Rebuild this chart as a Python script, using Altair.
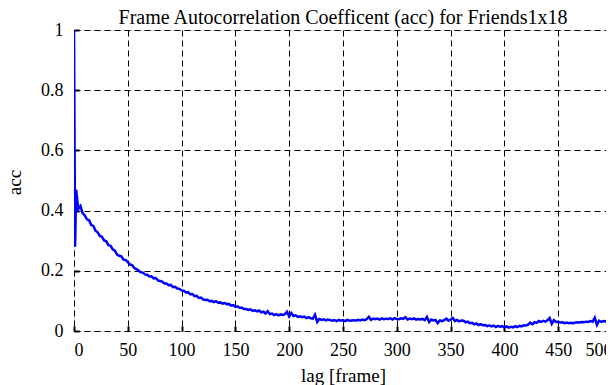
import altair as alt
import pandas as pd

TITLE = "Frame Autocorrelation Coefficent (acc) for Friends1x18"
X_TICKS = [0, 50, 100, 150, 200, 250, 300, 350, 400, 450, 500]
Y_TICKS = [0, 0.2, 0.4, 0.6, 0.8, 1.0]

LAGS = [0, 1] + list(range(2, 501, 2))
ACC = [
    1.0, 0.28,
    0.47, 0.405, 0.415, 0.392, 0.384, 0.371, 0.368, 0.352, 0.349, 0.333,
    0.328, 0.316, 0.313, 0.301, 0.298, 0.285, 0.283, 0.271, 0.267, 0.254,
    0.25, 0.248, 0.237, 0.236, 0.229, 0.221, 0.219, 0.209, 0.206, 0.201,
    0.195, 0.194, 0.188, 0.187, 0.181, 0.182, 0.175, 0.176, 0.168, 0.166,
    0.164, 0.158, 0.158, 0.152, 0.153, 0.146, 0.147, 0.141, 0.14, 0.135,
    0.134, 0.128, 0.129, 0.122, 0.123, 0.116, 0.117, 0.11, 0.111, 0.105,
    0.103, 0.104, 0.099, 0.1, 0.096, 0.099, 0.094, 0.095, 0.091, 0.093,
    0.089, 0.09, 0.084, 0.086, 0.08, 0.082, 0.077, 0.077, 0.073, 0.073,
    0.07, 0.072, 0.067, 0.069, 0.065, 0.068, 0.062, 0.064, 0.058, 0.066,
    0.056, 0.058, 0.053, 0.056, 0.052, 0.055, 0.053, 0.056, 0.064, 0.048,
    0.06, 0.05, 0.052, 0.047, 0.049, 0.046, 0.048, 0.043, 0.046, 0.042,
    0.041, 0.054, 0.03, 0.04, 0.037, 0.039, 0.035, 0.038, 0.036, 0.034,
    0.036, 0.033, 0.037, 0.034, 0.036, 0.033, 0.037, 0.034, 0.035, 0.036,
    0.034, 0.037, 0.035, 0.038, 0.036, 0.039, 0.047, 0.037, 0.041, 0.039,
    0.041, 0.038, 0.042, 0.039, 0.041, 0.04, 0.042, 0.038, 0.043, 0.04,
    0.039, 0.042, 0.04, 0.046, 0.038, 0.041, 0.039, 0.042, 0.038, 0.04,
    0.038, 0.04, 0.036, 0.047, 0.03, 0.038, 0.035, 0.037, 0.026, 0.035,
    0.033, 0.036, 0.041, 0.034, 0.038, 0.043, 0.033, 0.037, 0.032, 0.035,
    0.034, 0.029, 0.031, 0.026, 0.027, 0.022, 0.025, 0.02, 0.023, 0.019,
    0.02, 0.016, 0.019, 0.015, 0.018, 0.013, 0.017, 0.014, 0.016, 0.012,
    0.015, 0.011, 0.014, 0.012, 0.016, 0.013, 0.017, 0.015, 0.019, 0.018,
    0.021, 0.028, 0.022, 0.029, 0.027, 0.033, 0.03, 0.034, 0.031, 0.036,
    0.043, 0.024, 0.036, 0.03, 0.031, 0.028, 0.029, 0.026, 0.028, 0.026,
    0.027, 0.026, 0.028, 0.029, 0.028, 0.03, 0.029, 0.031, 0.03, 0.033,
    0.031, 0.044, 0.02, 0.034, 0.03, 0.033, 0.032, 0.035, 0.036, 0.038,
]

df = pd.DataFrame({"lag": LAGS, "acc": ACC})

FONT = "Liberation Serif"

x_axis = alt.Axis(
    values=X_TICKS, title="lag [frame]", grid=True, gridColor="black",
    gridDash=[6, 4], gridWidth=1, gridOpacity=1, domain=False,
    ticks=True, tickSize=5, tickWidth=2, tickColor="black", offset=-5,
    labelFont=FONT, labelFontSize=18, labelColor="black", labelPadding=10,
    titleFont=FONT, titleFontSize=19, titleFontWeight="normal", titleColor="black",
    titleX=269, titleY=49, titleAlign="center", titleBaseline="middle",
)
y_axis = alt.Axis(
    values=Y_TICKS, format="~g", title="acc", grid=True, gridColor="black",
    gridDash=[6, 4], gridWidth=1, gridOpacity=1, domain=False,
    ticks=True, tickSize=5, tickWidth=2, tickColor="black", offset=-5,
    labelFont=FONT, labelFontSize=18, labelColor="black", labelPadding=11,
    titleFont=FONT, titleFontSize=19, titleFontWeight="normal", titleColor="black",
    titleX=-65, titleY=152, titleAlign="center", titleBaseline="middle", titleAngle=-90,
)

chart = (
    alt.Chart(df)
    .mark_line(color="#0000ff", strokeWidth=2.5, clip=True)
    .encode(
        x=alt.X("lag:Q", scale=alt.Scale(domain=[0, 500], nice=False, zero=False), axis=x_axis),
        y=alt.Y("acc:Q", scale=alt.Scale(domain=[0, 1], nice=False), axis=y_axis),
    )
    .properties(
        width=538,
        height=301,
        title=alt.TitleParams(TITLE, font=FONT, fontSize=20, fontWeight="normal",
                              color="black", anchor="middle", offset=-7),
        autosize=alt.AutoSizeParams(type="none"),
        padding={"left": 66, "top": 22, "right": -6, "bottom": 57},
    )
    .configure_view(stroke="black", strokeWidth=2)
    .configure(background="white")
)

chart.save("out.html", embed_options={"renderer": "svg", "actions": False})
